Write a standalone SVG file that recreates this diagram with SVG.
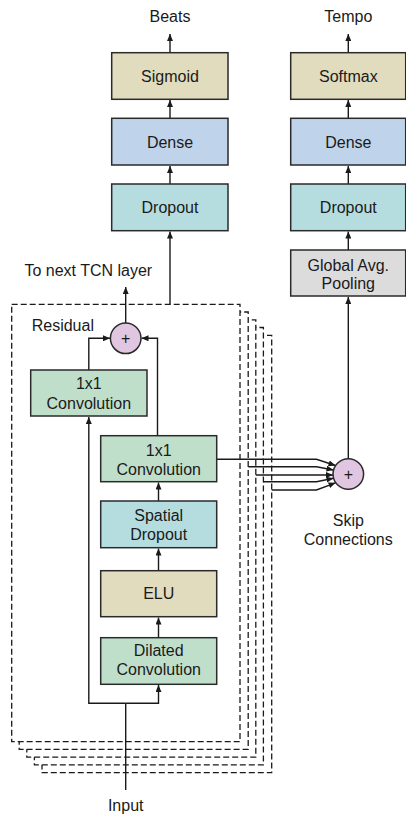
<svg xmlns="http://www.w3.org/2000/svg" width="406" height="814" viewBox="0 0 406 814">
<style>
text{font-family:"Liberation Sans",Arial,sans-serif;font-size:16px;fill:#1a1a1a;text-anchor:middle}
.box{stroke:#2a2a2a;stroke-width:1.5}
.beige{fill:#e1dcbd}.blue{fill:#bfd3ea}.teal{fill:#b5dde0}.green{fill:#c0dfcb}.gray{fill:#dcdcdc}
.plus{fill:#e0c6e1;stroke:#2a2a2a;stroke-width:1.5}
.dash{fill:#fff;stroke:#1a1a1a;stroke-width:1.3;stroke-dasharray:6 3}
.c{fill:none;stroke:#1a1a1a;stroke-width:1.4}
</style>
<defs>
<marker id="ah" markerUnits="userSpaceOnUse" markerWidth="7" markerHeight="6" refX="7" refY="3" orient="auto">
<path d="M0,0 L7,3 L0,6 z" fill="#1a1a1a"/>
</marker>
</defs>
<g id="tcn-stack">
<rect class="dash" x="42" y="335.3" width="229.7" height="437.4"/>
<rect class="dash" x="34.4" y="327.5" width="229" height="437.4"/>
<rect class="dash" x="26.8" y="319.8" width="229" height="437.4"/>
<rect class="dash" x="19.2" y="312" width="229" height="437.4"/>
<rect class="dash" x="11.7" y="304.3" width="228.3" height="437.4"/>
</g>
<g id="connectors">
<path class="c" d="M125.7,790 V703.3"/>
<path class="c" d="M125.7,703.3 H88.8 V417" marker-end="url(#ah)"/>
<path class="c" d="M125.7,703.3 H158.5 V685" marker-end="url(#ah)"/>
<path class="c" d="M158.5,637.7 V617.5" marker-end="url(#ah)"/>
<path class="c" d="M158.5,570.7 V548.5" marker-end="url(#ah)"/>
<path class="c" d="M158.5,501 V482.5" marker-end="url(#ah)"/>
<path class="c" d="M157.5,435.7 V338.3 H141.5" marker-end="url(#ah)"/>
<path class="c" d="M88.8,370 V338.3 H110" marker-end="url(#ah)"/>
<path class="c" d="M125.7,323 V287" marker-end="url(#ah)"/>
<path class="c" d="M170,304.3 V231.5" marker-end="url(#ah)"/>
<path class="c" d="M170,184 V166" marker-end="url(#ah)"/>
<path class="c" d="M170,118 V100" marker-end="url(#ah)"/>
<path class="c" d="M170,53 V34" marker-end="url(#ah)"/>
<path class="c" d="M348.3,458.7 V297" marker-end="url(#ah)"/>
<path class="c" d="M348.3,250 V231.5" marker-end="url(#ah)"/>
<path class="c" d="M348.3,184 V166" marker-end="url(#ah)"/>
<path class="c" d="M348.3,118 V100" marker-end="url(#ah)"/>
<path class="c" d="M348.3,53 V34" marker-end="url(#ah)"/>
<path class="c" d="M216.7,459.3 H316.5 L335.5,465.5" marker-end="url(#ah)"/>
<path class="c" d="M248.3,466.7 H316.5 L333.5,470" marker-end="url(#ah)"/>
<path class="c" d="M255.8,475 H333" marker-end="url(#ah)"/>
<path class="c" d="M263.4,481.7 H316.5 L333.5,478.3" marker-end="url(#ah)"/>
<path class="c" d="M271.7,490 H316.5 L335.5,482.8" marker-end="url(#ah)"/>
</g>
<g id="sigmoid"><rect class="box beige" x="111.7" y="52.7" width="116.3" height="46.6"/><text x="170" y="81.7">Sigmoid</text></g>
<g id="dense-beats"><rect class="box blue" x="111.7" y="118.3" width="116.3" height="46.7"/><text x="170" y="147.5">Dense</text></g>
<g id="dropout-beats"><rect class="box teal" x="111.7" y="184" width="116.3" height="46.7"/><text x="170" y="213">Dropout</text></g>
<g id="softmax"><rect class="box beige" x="290.7" y="52.7" width="115" height="46.6"/><text x="348.3" y="81.7">Softmax</text></g>
<g id="dense-tempo"><rect class="box blue" x="290.7" y="118.3" width="115" height="46.7"/><text x="348.3" y="147.5">Dense</text></g>
<g id="dropout-tempo"><rect class="box teal" x="290.7" y="184" width="115" height="46.7"/><text x="348.3" y="213">Dropout</text></g>
<g id="gap"><rect class="box gray" x="290.7" y="250" width="115" height="46"/><text x="348.3" y="270.5">Global Avg.</text><text x="348.3" y="289">Pooling</text></g>
<g id="residual-add"><circle class="plus" cx="125.7" cy="338.3" r="15.3"/><text x="125.7" y="344">+</text></g>
<g id="skip-add"><circle class="plus" cx="348.3" cy="474" r="15.3"/><text x="348.3" y="479.7">+</text></g>
<g id="conv-res"><rect class="box green" x="30.7" y="370" width="116.3" height="46"/><text x="88.8" y="389">1x1</text><text x="88.8" y="408.7">Convolution</text></g>
<g id="conv-skip"><rect class="box green" x="100.7" y="435.7" width="116" height="46"/><text x="158.7" y="455.7">1x1</text><text x="158.7" y="474.5">Convolution</text></g>
<g id="spatial-dropout"><rect class="box teal" x="100.7" y="501" width="116" height="46.7"/><text x="158.7" y="520.7">Spatial</text><text x="158.7" y="540">Dropout</text></g>
<g id="elu"><rect class="box beige" x="100.7" y="570.7" width="116" height="46"/><text x="158.7" y="599.4">ELU</text></g>
<g id="dilated"><rect class="box green" x="100.7" y="637.7" width="116" height="46.6"/><text x="158.7" y="656.4">Dilated</text><text x="158.7" y="675">Convolution</text></g>
<g id="labels">
<text x="170" y="21.7">Beats</text>
<text x="348.3" y="21.7">Tempo</text>
<text x="88.3" y="276">To next TCN layer</text>
<text x="31.7" y="330.7" style="text-anchor:start">Residual</text>
<text x="348.3" y="526">Skip</text>
<text x="348.3" y="545">Connections</text>
<text x="125.7" y="811">Input</text>
</g>
</svg>
